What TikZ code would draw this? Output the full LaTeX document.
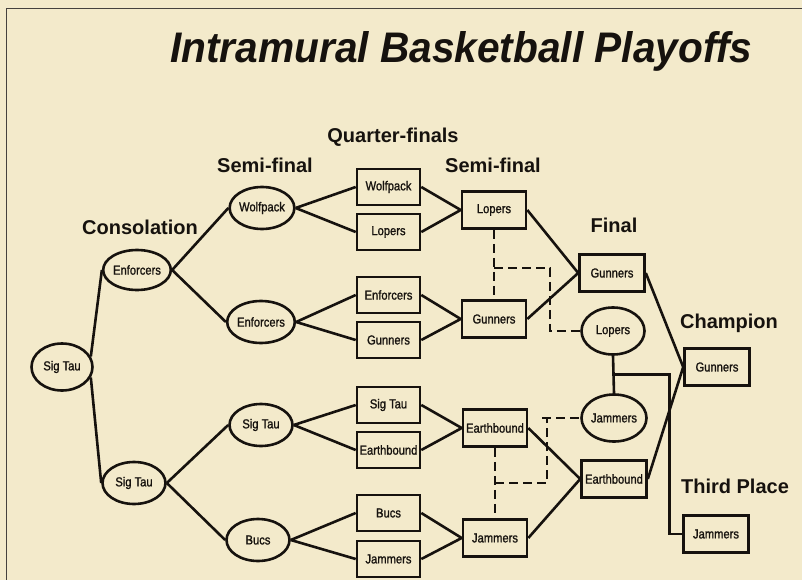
\documentclass[tikz,border=0pt]{standalone}
\usepackage{fontspec}
\setmainfont{Liberation Sans}
\newfontfamily\nodefont[FakeStretch=0.86,FakeBold=1.2]{Liberation Sans}
\usetikzlibrary{shapes.geometric,calc}
\definecolor{paper}{RGB}{243,234,203}
\definecolor{ink}{RGB}{22,18,14}
\begin{document}
\begin{tikzpicture}[x=1pt,y=-1pt,
  ell/.style={ellipse,draw=ink,line width=2.6pt,minimum width=63pt,minimum height=42pt,inner sep=0pt,font=\nodefont\fontsize{13}{13}\selectfont,text=ink},
  bx/.style={rectangle,draw=ink,line width=2.6pt,minimum width=63pt,minimum height=36pt,inner sep=0pt,font=\nodefont\fontsize{13}{13}\selectfont,text=ink},
  lbl/.style={anchor=base,font=\bfseries\fontsize{20}{20}\selectfont,text=ink,inner sep=0pt},
  con/.style={draw=ink,line width=2.6pt},
  dsh/.style={draw=ink,line width=2.2pt,dash pattern=on 9pt off 5pt},
  frame/.style={draw=ink!80,line width=0.9pt}]
\fill[paper] (0,0) rectangle (802,580);
\useasboundingbox (0,0) rectangle (802,580);
\coordinate (fa) at (6,580);
\coordinate (fb) at (6,8);
\coordinate (fc) at (802,8);
\draw[frame] (fa) -- (fb) -- (fc);
% title and labels
\node[anchor=base west,inner sep=0pt,text=ink] (title) at (170,63) {\resizebox{582pt}{31pt}{\bfseries\itshape Intramural Basketball Playoffs}};
\node[lbl] (lq) at (393,142.5) {Quarter-finals};
\node[lbl] (ls1) at (265,172) {Semi-final};
\node[lbl] (ls2) at (493,172) {Semi-final};
\node[lbl] (lc) at (140,234) {Consolation};
\node[lbl] (lf0) at (614,232) {Final};
\node[lbl] (lch) at (729,328) {Champion};
\node[lbl] (ltp) at (735,493) {Third Place};
% consolation side (ellipses)
\node[ell,minimum width=61pt,minimum height=47pt] (root) at (62,367) {Sig Tau};
\node[ell,minimum height=40pt] (ce) at (137,270) {Enforcers};
\node[ell] (cs) at (134,483) {Sig Tau};
\node[ell] (sw) at (262,208) {Wolfpack};
\node[ell] (se) at (261,322) {Enforcers};
\node[ell] (ss) at (261,425) {Sig Tau};
\node[ell] (sb) at (258,540) {Bucs};
% quarter-finals
\node[bx] (qw) at (388.5,187) {Wolfpack};
\node[bx] (ql) at (388.5,232) {Lopers};
\node[bx] (qe) at (388.5,295) {Enforcers};
\node[bx] (qg) at (388.5,340) {Gunners};
\node[bx] (qs) at (388.5,405) {Sig Tau};
\node[bx] (qeb) at (388.5,450) {Earthbound};
\node[bx] (qb) at (388.5,513) {Bucs};
\node[bx] (qj) at (388.5,559) {Jammers};
% semi-finals (right)
\node[bx,minimum width=64pt,minimum height=37pt] (lr) at (494,210) {Lopers};
\node[bx,minimum width=64pt,minimum height=37pt] (gr) at (494,319) {Gunners};
\node[bx,minimum width=64pt,minimum height=37pt] (er) at (495,428) {Earthbound};
\node[bx,minimum width=64pt,minimum height=37pt] (jr) at (495,538) {Jammers};
% finals
\node[bx,minimum width=65pt,minimum height=37pt] (gf) at (612,273) {Gunners};
\node[bx,minimum width=65pt,minimum height=37pt] (ef) at (614,479) {Earthbound};
\node[ell,minimum height=47pt] (lf) at (613,331) {Lopers};
\node[ell,minimum height=47pt] (jf) at (614,418) {Jammers};
\node[bx,minimum width=65pt,minimum height=37pt] (ch) at (717,367) {Gunners};
\node[bx,minimum width=65pt,minimum height=37pt] (tp) at (716,534) {Jammers};
% connectors
\draw[con] (root.20) -- (ce.west);
\draw[con] (root.-20) -- (cs.west);
\draw[con] (ce.east) -- (sw.west);
\draw[con] (ce.east) -- (se.west);
\draw[con] (cs.east) -- (ss.west);
\draw[con] (cs.east) -- (sb.west);
\draw[con] (sw.east) -- (qw.west);
\draw[con] (sw.east) -- (ql.west);
\draw[con] (se.east) -- (qe.west);
\draw[con] (se.east) -- (qg.west);
\draw[con] (ss.east) -- (qs.west);
\draw[con] (ss.east) -- (qeb.west);
\draw[con] (sb.east) -- (qb.west);
\draw[con] (sb.east) -- (qj.west);
\draw[con] (qw.east) -- (lr.west);
\draw[con] (ql.east) -- (lr.west);
\draw[con] (qe.east) -- (gr.west);
\draw[con] (qg.east) -- (gr.west);
\draw[con] (qs.east) -- (er.west);
\draw[con] (qeb.east) -- (er.west);
\draw[con] (qb.east) -- (jr.west);
\draw[con] (qj.east) -- (jr.west);
\draw[con] (lr.east) -- (gf.west);
\draw[con] (gr.east) -- (gf.west);
\draw[con] (er.east) -- (ef.west);
\draw[con] (jr.east) -- (ef.west);
\draw[con] (gf.east) -- (ch.west);
\draw[con] (ef.east) -- (ch.west);
\draw[con] (lf.south) -- (jf.north);
\coordinate (tj) at ($(lf.south)!0.5!(jf.north)$);
\draw[con] (tj) -- ++(56,0) |- (tp.west);
% dashed links
\draw[dsh] (lr.south) -- (gr.north);
\draw[dsh] ($(lr.south)!0.55!(gr.north)$) -- ++(56,0) |- (lf.west);
\draw[dsh] (er.south) -- (jr.north);
\draw[dsh] ($(er.south)!0.5!(jr.north)$) -| ([xshift=-33pt]jf.west);
\draw[dsh] ([xshift=-38pt]jf.west) -- (jf.west);
\end{tikzpicture}
\end{document}
